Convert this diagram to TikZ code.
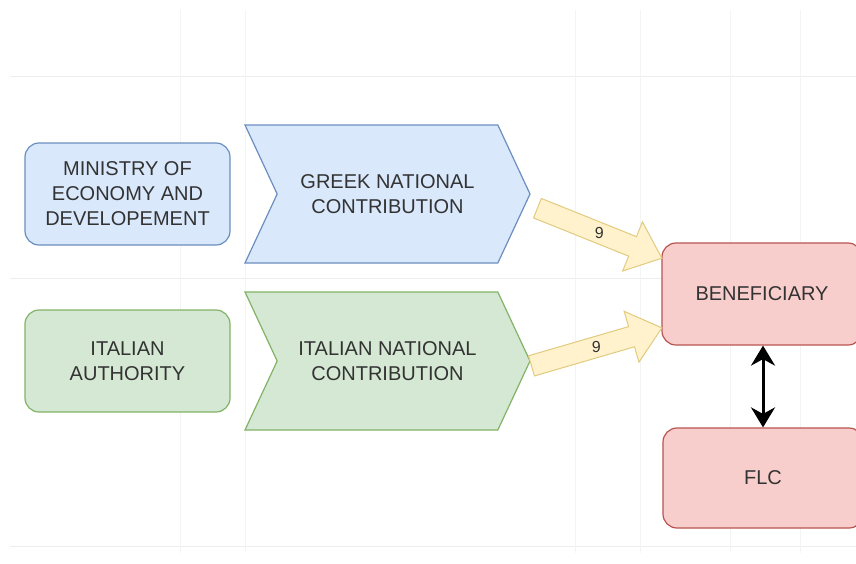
\documentclass[tikz,border=0pt]{standalone}
\usepackage{fontspec}
\setmainfont{Liberation Sans}
\usepackage{tikz}
\usetikzlibrary{arrows.meta,calc,shapes.symbols,shapes.arrows}
\definecolor{blueFill}{HTML}{DAE8FC}
\definecolor{blueLine}{HTML}{6C8EBF}
\definecolor{greenFill}{HTML}{D5E8D4}
\definecolor{greenLine}{HTML}{82B366}
\definecolor{redFill}{HTML}{F8CECC}
\definecolor{redLine}{HTML}{B85450}
\definecolor{yelFill}{HTML}{FFF2CC}
\definecolor{yelLine}{HTML}{E2CB7E}
\definecolor{txt}{HTML}{333333}
\definecolor{gridLine}{HTML}{EDEDED}

\tikzset{
  entity/.style={draw, rounded corners=14pt, line width=1.2pt, minimum width=205pt,
    minimum height=102pt, align=center, text=txt, inner sep=0pt,
    font=\fontsize{20}{25}\selectfont},
  contrib/.style={signal, signal from=west, signal to=east, signal pointer angle=130,
    draw, line width=1.2pt, minimum width=285pt, minimum height=138pt, align=center,
    text=txt, inner sep=0pt, font=\fontsize{20}{25}\selectfont},
  flow/.style={single arrow, draw=yelLine, fill=yelFill, line width=1pt,
    inner xsep=0pt, inner ysep=10pt, single arrow head extend=16pt,
    single arrow tip angle=80},
  flowlabel/.style={text=txt, font=\fontsize{16}{18}\selectfont, inner sep=1pt},
  link/.style={line width=3pt, {Stealth[length=20pt,width=24pt]}-{Stealth[length=20pt,width=24pt]}}
}

\begin{document}
\begin{tikzpicture}[x=1pt, y=-1pt]
\useasboundingbox[fill=white] (0,0) rectangle (856,563);

% faint grid of the canvas
\foreach \gy in {76,278,546}
  \draw[gridLine, line width=1pt] (10,\gy) -- (856,\gy);
\foreach \gx in {180,245,575,640,730,800}
  \draw[gridLine!60, line width=1pt] (\gx,10) -- (\gx,553);

% sources
\node[entity, fill=blueFill, draw=blueLine] (min) at (127.5,194) {MINISTRY OF\\ECONOMY AND\\DEVELOPEMENT};
\node[entity, fill=greenFill, draw=greenLine] (ita) at (127.5,361) {ITALIAN\\AUTHORITY};

% contributions
\node[contrib, fill=blueFill, draw=blueLine] (gnc) at (387.5,194) {GREEK NATIONAL\\CONTRIBUTION};
\node[contrib, fill=greenFill, draw=greenLine] (inc) at (387.5,361) {ITALIAN NATIONAL\\CONTRIBUTION};

% receivers
\node[entity, fill=redFill, draw=redLine, minimum width=200pt] (ben) at (762,294) {BENEFICIARY};
\node[entity, fill=redFill, draw=redLine, minimum width=200pt, minimum height=100pt] (flc) at (763,478) {FLC};

% flows
\coordinate (gs) at (537,208);
\coordinate (is) at (531,366);
\coordinate (gt) at ($(ben.west)+(0,-36)$);
\coordinate (it) at ($(ben.west)+(0,34)$);

\path let \p1=(gs), \p2=(gt), \n1={atan2(\y2-\y1,\x2-\x1)}, \n2={veclen(\x2-\x1,\y2-\y1)} in
  node[flow, minimum height=\n2, rotate=\n1, anchor=tail] (f1) at (\p1) {};
\path let \p1=(is), \p2=(it), \n1={atan2(\y2-\y1,\x2-\x1)}, \n2={veclen(\x2-\x1,\y2-\y1)} in
  node[flow, minimum height=\n2, rotate=\n1, anchor=tail] (f2) at (\p1) {};
\node[flowlabel] (l1) at ($(gs)!0.5!(gt)$) {9};
\node[flowlabel] (l2) at ($(is)!0.5!(it)$) {9};

% check link
\draw[link] (ben.south -| 763,0) -- (flc.north -| 763,0);
\end{tikzpicture}
\end{document}
